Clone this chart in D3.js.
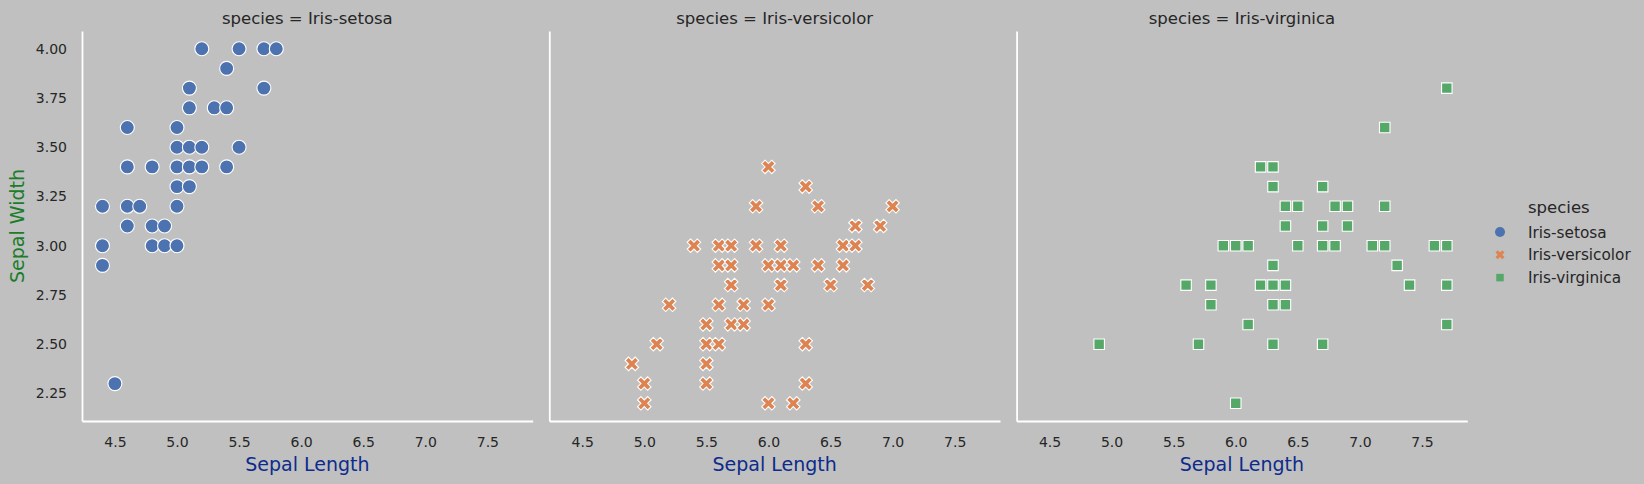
<!DOCTYPE html>
<html>
<head>
<meta charset="utf-8">
<script src="https://cdn.jsdelivr.net/npm/d3@7"></script>
<style>
    body { margin: 0; background: #c0c0c0; }
    svg { display: block; font-family: "DejaVu Sans", sans-serif; }
</style>
</head>
<body>
<div id="chart"></div>
<script>
        const species = ["Iris-setosa", "Iris-versicolor", "Iris-virginica"];
        const colors = ["#4c72b0", "#dd8452", "#55a868"];

        const setosaLength = [5.2, 5.5, 5.7, 5.8, 5.4, 5.1, 5.7, 5.1, 5.3, 5.4, 4.6, 5.0, 5.0, 5.1, 5.2, 5.5,
            4.6, 4.8, 5.0, 5.1, 5.2, 5.4, 5.0, 5.1, 4.4, 4.6, 4.7, 5.0, 4.6, 4.8, 4.9, 4.4, 4.8, 4.9, 5.0, 4.4, 4.5];
        const setosaWidth = [4.0, 4.0, 4.0, 4.0, 3.9, 3.8, 3.8, 3.7, 3.7, 3.7, 3.6, 3.6, 3.5, 3.5, 3.5, 3.5,
            3.4, 3.4, 3.4, 3.4, 3.4, 3.4, 3.3, 3.3, 3.2, 3.2, 3.2, 3.2, 3.1, 3.1, 3.1, 3.0, 3.0, 3.0, 3.0, 2.9, 2.3];

        const versicolorLength = [6.0, 6.3, 5.9, 6.4, 7.0, 6.7, 6.9, 5.4, 5.6, 5.7, 5.9, 6.1, 6.6, 6.7,
            5.6, 5.7, 6.0, 6.1, 6.2, 6.4, 6.6, 5.7, 6.1, 6.5, 6.8, 5.2, 5.6, 5.8, 6.0, 5.5, 5.7, 5.8,
            5.1, 5.5, 5.6, 6.3, 4.9, 5.5, 5.0, 5.5, 6.3, 5.0, 6.0, 6.2];
        const versicolorWidth = [3.4, 3.3, 3.2, 3.2, 3.2, 3.1, 3.1, 3.0, 3.0, 3.0, 3.0, 3.0, 3.0, 3.0,
            2.9, 2.9, 2.9, 2.9, 2.9, 2.9, 2.9, 2.8, 2.8, 2.8, 2.8, 2.7, 2.7, 2.7, 2.7, 2.6, 2.6, 2.6,
            2.5, 2.5, 2.5, 2.5, 2.4, 2.4, 2.3, 2.3, 2.3, 2.2, 2.2, 2.2];

        const virginicaLength = [7.7, 7.2, 6.2, 6.3, 6.3, 6.7, 6.4, 6.5, 6.8, 6.9, 7.2, 6.4, 6.7, 6.9,
            5.9, 6.0, 6.1, 6.5, 6.7, 6.8, 7.1, 7.2, 7.6, 7.7, 6.3, 7.3, 5.6, 5.8, 6.2, 6.3, 6.4, 7.4, 7.7,
            5.8, 6.3, 6.4, 6.1, 7.7, 4.9, 5.7, 6.3, 6.7, 6.0];
        const virginicaWidth = [3.8, 3.6, 3.4, 3.4, 3.3, 3.3, 3.2, 3.2, 3.2, 3.2, 3.2, 3.1, 3.1, 3.1,
            3.0, 3.0, 3.0, 3.0, 3.0, 3.0, 3.0, 3.0, 3.0, 3.0, 2.9, 2.9, 2.8, 2.8, 2.8, 2.8, 2.8, 2.8, 2.8,
            2.7, 2.7, 2.7, 2.6, 2.6, 2.5, 2.5, 2.5, 2.5, 2.2];

        const xTicks = [4.5, 5.0, 5.5, 6.0, 6.5, 7.0, 7.5];
        const yTicks = [2.25, 2.5, 2.75, 3.0, 3.25, 3.5, 3.75, 4.0];

        const seriesX = [setosaLength, versicolorLength, virginicaLength];
        const seriesY = [setosaWidth, versicolorWidth, virginicaWidth];

        // marker shapes like seaborn's defaults: circle, filled X, square
        const xShape = {
            draw(ctx, size) {
                const s = size / 4;
                const pts = [[-1, -2], [0, -1], [1, -2], [2, -1], [1, 0], [2, 1], [1, 2], [0, 1], [-1, 2], [-2, 1], [-1, 0], [-2, -1]];
                ctx.moveTo(pts[0][0] * s, pts[0][1] * s);
                pts.slice(1).forEach(p => ctx.lineTo(p[0] * s, p[1] * s));
                ctx.closePath();
            }
        };
        const squareShape = {
            draw(ctx, size) {
                const h = size / 2;
                ctx.rect(-h, -h, size, size);
            }
        };
        const circleShape = {
            draw(ctx, size) {
                const r = size / 2;
                ctx.moveTo(r, 0);
                ctx.arc(0, 0, r, 0, 2 * Math.PI);
            }
        };
        const shapes = [circleShape, xShape, squareShape];
        const markerSize = [14, 13.5, 10.5];
        const legendSize = [10, 9, 7.5];

        const W = 1644, H = 484;
        const margin = { top: 31, left: 82 };
        const panelW = 450.7, panelH = 390, panelStep = 467.3;

        const svg = d3.select("#chart")
            .append("svg")
            .attr("width", W)
            .attr("height", H);

        svg.append("rect").attr("width", W).attr("height", H).attr("fill", "#c0c0c0");

        const xScale = d3.scaleLinear().domain([4.235, 7.865]).range([0, panelW]);
        const yScale = d3.scaleLinear().domain([2.11, 4.09]).range([panelH, 0]);

        species.forEach((sp, i) => {
            const g = svg.append("g")
                .attr("transform", `translate(${margin.left + i * panelStep},${margin.top})`);

            // x axis
            const xa = g.append("g")
                .attr("transform", `translate(0,${panelH})`)
                .call(d3.axisBottom(xScale).tickValues(xTicks).tickFormat(d3.format(".1f")).tickSize(0).tickPadding(16));
            xa.select(".domain").attr("stroke", "#fff").attr("stroke-width", 1.8);
            xa.selectAll("text").attr("fill", "#262626").attr("font-size", 14).attr("font-family", "DejaVu Sans");

            // y axis (labels only on first panel)
            const ya = g.append("g")
                .call(d3.axisLeft(yScale).tickValues(yTicks).tickFormat(d3.format(".2f")).tickSize(0).tickPadding(15));
            ya.select(".domain").attr("stroke", "#fff").attr("stroke-width", 1.8);
            ya.selectAll("text").attr("fill", "#262626").attr("font-size", 14).attr("font-family", "DejaVu Sans");
            if (i > 0) ya.selectAll(".tick").remove();

            // panel title
            g.append("text")
                .attr("x", panelW / 2)
                .attr("y", -7.5)
                .attr("text-anchor", "middle")
                .attr("font-size", 16.5)
                .attr("fill", "#262626")
                .text(`species = ${sp}`);

            // x label
            g.append("text")
                .attr("x", panelW / 2)
                .attr("y", panelH + 49.7)
                .attr("text-anchor", "middle")
                .attr("font-size", 19)
                .attr("fill", "#0d2b8c")
                .text("Sepal Length");

            // points
            const pts = seriesX[i].map((x, k) => ({ x: x, y: seriesY[i][k] }));
            g.selectAll(".dot")
                .data(pts)
                .enter()
                .append("path")
                .attr("class", "dot")
                .attr("transform", d => `translate(${xScale(d.x)},${yScale(d.y)})`)
                .attr("d", d3.symbol().type(shapes[i]).size(markerSize[i]))
                .attr("fill", colors[i])
                .attr("stroke", "#fff")
                .attr("stroke-width", 1.1);
        });

        // y label
        svg.append("text")
            .attr("transform", `translate(24,${margin.top + panelH / 2}) rotate(-90)`)
            .attr("text-anchor", "middle")
            .attr("font-size", 19)
            .attr("fill", "#1a7d2a")
            .text("Sepal Width");

        // legend
        const legend = svg.append("g").attr("transform", "translate(1500,0)");
        legend.append("text")
            .attr("x", 28)
            .attr("y", 213)
            .attr("font-size", 16.5)
            .attr("fill", "#262626")
            .text("species");
        species.forEach((sp, i) => {
            const y = 232 + i * 22.8;
            legend.append("path")
                .attr("transform", `translate(0,${y})`)
                .attr("d", d3.symbol().type(shapes[i]).size(legendSize[i]))
                .attr("fill", colors[i]);
            legend.append("text")
                .attr("x", 28)
                .attr("y", y + 5.5)
                .attr("font-size", 15.3)
                .attr("fill", "#262626")
                .text(sp);
        });
</script>
</body>
</html>
